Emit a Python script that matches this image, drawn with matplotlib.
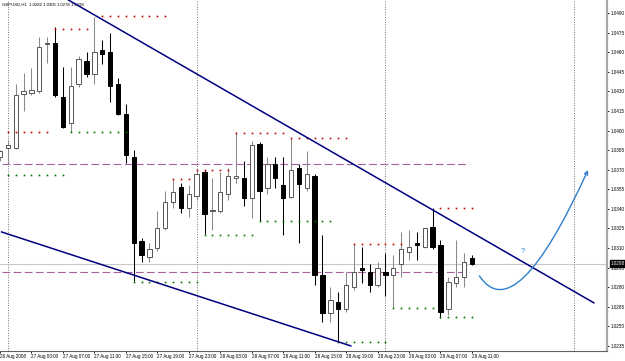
import numpy as np
import matplotlib
matplotlib.use("Agg")
import matplotlib.pyplot as plt
from matplotlib.path import Path
from matplotlib.patches import FancyArrowPatch

plt.rcParams['font.family'] = ['Liberation Sans', 'DejaVu Sans']

# GBPUSD H1, bar 0 = 27 Aug 2008 00:00 (bar -1 = 26 Aug 23:00)
bars = np.arange(-1, 60)
opens = [1.0380, 1.0387, 1.0387, 1.0428, 1.0429, 1.0430, 1.0466, 1.0467, 1.0426, 1.0406,
         1.0436, 1.0453, 1.0443, 1.0462, 1.0460, 1.0436, 1.0413, 1.0380, 1.0315, 1.0303,
         1.0310, 1.0325, 1.0345, 1.0357, 1.0341, 1.0350, 1.0368, 1.0338, 1.0338, 1.0351,
         1.0364, 1.0364, 1.0348, 1.0390, 1.0356, 1.0374, 1.0358, 1.0349, 1.0371, 1.0356,
         1.0365, 1.0289, 1.0260, 1.0269, 1.0263, 1.0280, 1.0295, 1.0292, 1.0282, 1.0292,
         1.0289, 1.0298, 1.0307, 1.0314, 1.0311, 1.0326, 1.0312, 1.0263, 1.0283, 1.0288,
         1.0302]
highs = [1.0385, 1.0393, 1.0436, 1.0444, 1.0448, 1.0472, 1.0472, 1.0479, 1.0449, 1.0449,
         1.0457, 1.0460, 1.0487, 1.0469, 1.0475, 1.0440, 1.0420, 1.0385, 1.0318, 1.0314,
         1.0338, 1.0354, 1.0363, 1.0360, 1.0358, 1.0370, 1.0370, 1.0364, 1.0368, 1.0371,
         1.0399, 1.0377, 1.0392, 1.0391, 1.0380, 1.0380, 1.0380, 1.0394, 1.0374, 1.0384,
         1.0367, 1.0320, 1.0280, 1.0276, 1.0292, 1.0313, 1.0311, 1.0298, 1.0299, 1.0306,
         1.0305, 1.0322, 1.0324, 1.0322, 1.0325, 1.0341, 1.0316, 1.0288, 1.0316, 1.0306,
         1.0305]
lows = [1.0377, 1.0374, 1.0386, 1.0415, 1.0427, 1.0429, 1.0452, 1.0426, 1.0402, 1.0399,
        1.0433, 1.0441, 1.0436, 1.0451, 1.0422, 1.0412, 1.0375, 1.0285, 1.0299, 1.0299,
        1.0308, 1.0324, 1.0341, 1.0337, 1.0334, 1.0347, 1.0321, 1.0324, 1.0337, 1.0347,
        1.0360, 1.0342, 1.0333, 1.0331, 1.0351, 1.0356, 1.0320, 1.0348, 1.0314, 1.0354,
        1.0282, 1.0253, 1.0253, 1.0238, 1.0261, 1.0278, 1.0283, 1.0276, 1.0280, 1.0273,
        1.0265, 1.0288, 1.0301, 1.0301, 1.0310, 1.0309, 1.0256, 1.0259, 1.0280, 1.0280,
        1.0297]
closes = [1.0384, 1.0389, 1.0427, 1.0430, 1.0431, 1.0464, 1.0467, 1.0427, 1.0403, 1.0434,
          1.0455, 1.0443, 1.0460, 1.0459, 1.0434, 1.0413, 1.0381, 1.0314, 1.0305, 1.0309,
          1.0325, 1.0345, 1.0353, 1.0341, 1.0351, 1.0367, 1.0336, 1.0339, 1.0353, 1.0365,
          1.0365, 1.0348, 1.0389, 1.0354, 1.0374, 1.0364, 1.0348, 1.0370, 1.0359, 1.0367,
          1.0289, 1.0260, 1.0270, 1.0263, 1.0282, 1.0292, 1.0293, 1.0282, 1.0295, 1.0289,
          1.0295, 1.0309, 1.0311, 1.0312, 1.0325, 1.0311, 1.0261, 1.0284, 1.0288, 1.0299,
          1.0298]

# dotted fractal levels: start bar, end bar, price
red_start = [12, 6, 0, 29, 36, 24, 21, 44, 55]
red_end = [20, 10, 5, 35, 43, 28, 23, 50, 59]
red_price = [1.0488, 1.0478, 1.0399, 1.0398, 1.0394, 1.0370, 1.0363, 1.0313, 1.0341]
green_start = [0, 8, 16, 25, 32, 42, 49, 55]
green_end = [7, 15, 24, 31, 41, 48, 54, 59]
green_price = [1.0366, 1.0399, 1.0284, 1.0320, 1.0331, 1.0238, 1.0264, 1.0257]

# horizontal dashed levels and trend lines (bar, price anchors)
hlevels = [1.0374, 1.0292]
hlevel_end = 58.6
upper_tl = ([7.7, 74.5], [1.0500, 1.0268])
lower_tl = ([-0.8, 43.6], [1.03223, 1.0235])
arrow_pts = [(59.95, 1.02886), (64.5, 1.02472), (73.76, 1.03698)]

day_breaks = [0, 24, 48, 72]
xtick_bars = [-1, 3, 7, 11, 15, 19, 23, 27, 31, 35, 39, 43, 47, 51, 55, 59]
xtick_labels = ['26 Aug 2008', '27 Aug 03:00', '27 Aug 07:00', '27 Aug 11:00', '27 Aug 15:00',
                '27 Aug 19:00', '27 Aug 23:00', '28 Aug 03:00', '28 Aug 07:00', '28 Aug 11:00',
                '28 Aug 15:00', '28 Aug 19:00', '28 Aug 23:00', '29 Aug 03:00', '29 Aug 07:00',
                '29 Aug 11:00']
yticks = np.round(np.arange(1.0235, 1.04901, 0.0015), 4)

fig = plt.figure(figsize=(6.25, 3.61), dpi=100)
ax = fig.add_axes([0, 10 / 361, 607 / 625, 351 / 361])
ax.set_xlim(-0.76, 76.17)
ax.set_ylim(1.02311, 1.0500)

# day separators
for d in day_breaks:
    ax.axvline(d, color='#707070', lw=0.7, ls=(0, (1, 1.6)), zorder=1)

# current price line
ax.axhline(closes[-1], color='#c8c8c8', lw=0.8, zorder=1)

for lv in hlevels:
    ax.plot([-0.76, hlevel_end], [lv, lv], color='#a8609f', lw=0.8, ls=(0, (7, 3)), zorder=2)

# candles
o = np.array(opens); c = np.array(closes)
up = c >= o
wick_col = np.where(up, '#8a8a8a', '#000000')
ax.vlines(bars, lows, highs, colors=wick_col, lw=0.75, zorder=3)
ax.bar(bars[up], (c - o)[up], bottom=o[up], width=0.55, color='white',
       edgecolor='#555555', lw=0.7, zorder=4)
ax.bar(bars[~up], (o - c)[~up], bottom=c[~up], width=0.55, color='black',
       edgecolor='black', lw=0.7, zorder=4)

for s, e, p in zip(red_start, red_end, red_price):
    xs = np.arange(s, e + 1)
    ax.plot(xs, [p] * len(xs), ls='none', marker='s', ms=1.2, mew=0, color='#c00000', zorder=5)
for s, e, p in zip(green_start, green_end, green_price):
    xs = np.arange(s, e + 1)
    ax.plot(xs, [p] * len(xs), ls='none', marker='s', ms=1.2, mew=0, color='#007000', zorder=5)

ax.plot(*upper_tl, color='#000080', lw=1.1, zorder=6)
ax.plot(*lower_tl, color='#000080', lw=1.1, zorder=6)

path = Path(arrow_pts, [Path.MOVETO, Path.CURVE3, Path.CURVE3])
ax.add_patch(FancyArrowPatch(path=path, arrowstyle='->,head_length=2.5,head_width=1.2',
                             color='#2f7fcc', lw=1.0, zorder=7))
ax.text(65.5, 1.0307, '?', color='#2f7fcc', fontsize=5.5, ha='center', va='center')

# axes styling
for side in ['left', 'top']:
    ax.spines[side].set_visible(False)
ax.spines['right'].set_color('#a8a8a8')
ax.spines['right'].set_linewidth(1.6)
ax.spines['bottom'].set_color('#606060')
ax.spines['bottom'].set_linewidth(0.8)

ax.yaxis.tick_right()
ax.set_yticks(yticks)
ax.set_yticklabels([f'{v:.4f}' for v in yticks])
ax.tick_params(axis='y', length=1.5, width=0.6, pad=1.5, labelsize=3.3, colors='black')
ax.set_xticks(xtick_bars)
ax.set_xticklabels(xtick_labels, ha='left')
ax.tick_params(axis='x', length=1.5, width=0.6, pad=1.0, labelsize=3.3)

ax.text(0.003, 0.994, 'GBPUSD,H1  1.0282 1.0305 1.0278 1.0298', transform=ax.transAxes,
        fontsize=3.1, ha='left', va='top')

ax.annotate(f'{closes[-1]:.4f}', xy=(1, closes[-1]), xycoords=('axes fraction', 'data'),
            xytext=(4, 0), textcoords='offset pixels', fontsize=3.3, color='white',
            ha='left', va='center', annotation_clip=False,
            bbox=dict(boxstyle='square,pad=0.15', fc='black', ec='black'))

fig.savefig('out.png', dpi=100, facecolor='white')
